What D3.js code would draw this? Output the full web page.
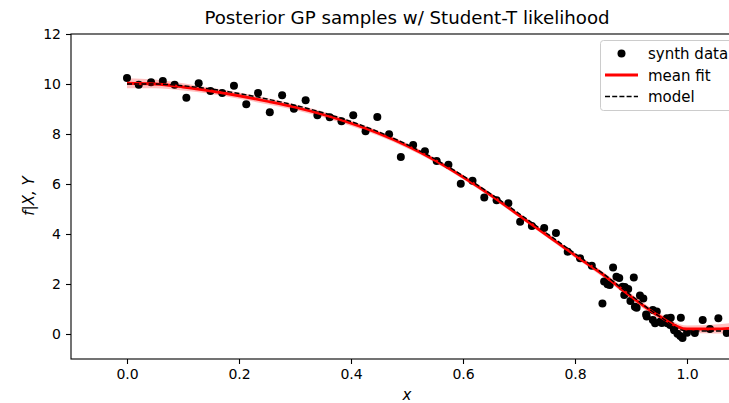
<!DOCTYPE html>
<html>
<head>
<meta charset="utf-8">
<script src="https://cdn.jsdelivr.net/npm/d3@7"></script>
<style>
  body { margin: 0; background: #fff; }
  svg { display: block; font-family: "DejaVu Sans", sans-serif; }
</style>
</head>
<body>
<div id="chart"></div>
<script>
// synthetic observations
const dataX = [0.000, 0.021, 0.043, 0.064, 0.085, 0.106, 0.128, 0.149, 0.170, 0.191,
  0.213, 0.234, 0.255, 0.277, 0.298, 0.319, 0.340, 0.362, 0.383, 0.404,
  0.426, 0.447, 0.468, 0.489, 0.511, 0.532, 0.553, 0.574, 0.596, 0.617,
  0.638, 0.660, 0.681, 0.702, 0.723, 0.745, 0.766, 0.787, 0.809, 0.830,
  0.849, 0.852, 0.858, 0.862, 0.868, 0.874, 0.879, 0.885, 0.889, 0.888,
  0.895, 0.899, 0.905, 0.907, 0.910, 0.916, 0.922, 0.927, 0.928, 0.939,
  0.946, 0.939, 0.943, 0.952, 0.955, 0.964, 0.971, 0.965, 0.970, 0.976,
  0.977, 0.983, 0.988, 0.989, 0.992, 1.000, 1.014, 1.028, 1.041, 1.056, 1.071];
const dataY = [10.24, 9.97, 10.07, 10.12, 9.97, 9.45, 10.03, 9.72, 9.64, 9.93,
  9.19, 9.64, 8.87, 9.55, 9.01, 9.35, 8.75, 8.67, 8.51, 8.75,
  8.11, 8.68, 7.99, 7.08, 7.56, 7.31, 6.92, 6.77, 6.01, 6.13,
  5.46, 5.35, 5.23, 4.49, 4.32, 4.24, 4.04, 3.29, 3.03, 2.73,
  1.22, 2.10, 1.99, 1.96, 2.66, 2.29, 2.24, 1.89, 1.88, 1.56,
  1.80, 1.32, 2.26, 1.09, 1.05, 1.54, 1.42, 0.78, 0.70, 0.96,
  0.90, 0.56, 0.43, 0.49, 0.44, 0.63, 0.65, 0.43, 0.36, 0.25,
  0.15, 0.01, -0.08, 0.65, -0.16, 0.05, 0.04, 0.56, 0.20, 0.63, 0.04];

// curve grid
const gridX = [0, 0.05, 0.1, 0.15, 0.2, 0.25, 0.3, 0.35, 0.4, 0.45, 0.5, 0.55,
  0.6, 0.65, 0.7, 0.75, 0.8, 0.85, 0.9, 0.95, 1.0, 1.05, 1.1];
const meanFit = [10.03, 10.0, 9.88, 9.72, 9.53, 9.31, 9.07, 8.78, 8.43, 8.02, 7.53, 6.95,
  6.28, 5.55, 4.75, 3.95, 3.15, 2.38, 1.50, 0.72, 0.20, 0.20, 0.28];
const sampleLo = [9.83, 9.83, 9.74, 9.60, 9.41, 9.19, 8.96, 8.67, 8.32, 7.92, 7.43, 6.86,
  6.19, 5.46, 4.66, 3.86, 3.05, 2.27, 1.38, 0.60, 0.06, 0.02, 0.06];
const sampleHi = [10.23, 10.18, 10.03, 9.85, 9.66, 9.44, 9.19, 8.90, 8.54, 8.12, 7.63, 7.04,
  6.37, 5.64, 4.84, 4.04, 3.25, 2.49, 1.62, 0.84, 0.34, 0.38, 0.50];
const model = [10.0, 10.0, 9.93, 9.80, 9.62, 9.40, 9.15, 8.85, 8.50, 8.08, 7.58, 7.0,
  6.33, 5.6, 4.82, 4.02, 3.22, 2.42, 1.55, 0.72, 0.12, 0.12, 0.12];

const xTicks = [0.0, 0.2, 0.4, 0.6, 0.8, 1.0];
const yTicks = [0, 2, 4, 6, 8, 10, 12];
const legendLabels = ["synth data", "mean fit", "model"];

const W = 729, H = 403;
const svg = d3.select("#chart").append("svg").attr("width", W).attr("height", H);

const x = d3.scaleLinear().domain([-0.1, 1.1]).range([71, 743]);
const y = d3.scaleLinear().domain([-1, 12]).range([359, 34]);

svg.append("clipPath").attr("id", "plot")
  .append("rect").attr("x", 71).attr("y", 34).attr("width", 672).attr("height", 325);

const plot = svg.append("g").attr("clip-path", "url(#plot)");

// posterior samples band
const band = gridX.map((v, i) => [v, sampleLo[i], sampleHi[i]]);
plot.append("path")
  .datum(band)
  .attr("fill", "rgba(255,0,0,0.25)")
  .attr("d", d3.area().x(d => x(d[0])).y0(d => y(d[1])).y1(d => y(d[2])).curve(d3.curveMonotoneX));

plot.selectAll(".dot")
  .data(dataX.map((v, i) => [v, dataY[i]]))
  .enter().append("circle")
  .attr("class", "dot")
  .attr("cx", d => x(d[0]))
  .attr("cy", d => y(d[1]))
  .attr("r", 4)
  .attr("fill", "#000");

const line = d3.line().x(d => x(d[0])).y(d => y(d[1])).curve(d3.curveMonotoneX);

plot.append("path")
  .datum(gridX.map((v, i) => [v, meanFit[i]]))
  .attr("fill", "none").attr("stroke", "#ff0000").attr("stroke-width", 2.8)
  .attr("d", line);

plot.append("path")
  .datum(gridX.map((v, i) => [v, model[i]]))
  .attr("fill", "none").attr("stroke", "#000").attr("stroke-width", 1.4)
  .attr("stroke-dasharray", "5,2.2")
  .attr("d", line);

// axes
const xAxis = svg.append("g").attr("transform", "translate(0,359)")
  .call(d3.axisBottom(x).tickValues(xTicks).tickFormat(d3.format(".1f")).tickSize(5).tickPadding(5));
const yAxis = svg.append("g").attr("transform", "translate(71,0)")
  .call(d3.axisLeft(y).tickValues(yTicks).tickSize(5).tickPadding(5));

[xAxis, yAxis].forEach(a => {
  a.selectAll("text").attr("font-size", 14).attr("fill", "#000").attr("font-family", "DejaVu Sans");
  a.selectAll("line").attr("stroke", "#000").attr("stroke-width", 1.1);
  a.select(".domain").remove();
});

svg.append("rect")
  .attr("x", 71).attr("y", 34).attr("width", 672).attr("height", 325)
  .attr("fill", "none").attr("stroke", "#000").attr("stroke-width", 1.1);

// title and labels
svg.append("text")
  .attr("x", 407).attr("y", 24)
  .attr("text-anchor", "middle").attr("font-size", 18.2)
  .text("Posterior GP samples w/ Student-T likelihood");

svg.append("text")
  .attr("x", 407).attr("y", 400)
  .attr("text-anchor", "middle").attr("font-size", 15).attr("font-style", "italic")
  .text("x");

svg.append("text")
  .attr("transform", "translate(34,196) rotate(-90)")
  .attr("text-anchor", "middle").attr("font-size", 15).attr("font-style", "italic")
  .text("f|X, Y");

// legend
const lg = svg.append("g");
lg.append("rect")
  .attr("x", 600.5).attr("y", 40.5).attr("width", 136).attr("height", 70).attr("rx", 3)
  .attr("fill", "rgba(255,255,255,0.8)").attr("stroke", "#ccc");

const rowY = [53.5, 75, 96.5];
lg.append("circle").attr("cx", 621.5).attr("cy", rowY[0]).attr("r", 4).attr("fill", "#000");
lg.append("line").attr("x1", 605).attr("x2", 638).attr("y1", rowY[1]).attr("y2", rowY[1])
  .attr("stroke", "#ff0000").attr("stroke-width", 2.8);
lg.append("line").attr("x1", 605).attr("x2", 638).attr("y1", rowY[2]).attr("y2", rowY[2])
  .attr("stroke", "#000").attr("stroke-width", 1.4).attr("stroke-dasharray", "5,2.2");

lg.selectAll(".lbl")
  .data(legendLabels)
  .enter().append("text")
  .attr("class", "lbl")
  .attr("x", 648)
  .attr("y", (d, i) => rowY[i] + 5.5)
  .attr("font-size", 15)
  .text(d => d);
</script>
</body>
</html>
